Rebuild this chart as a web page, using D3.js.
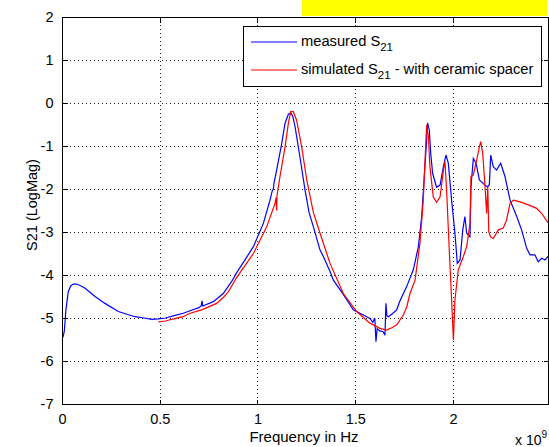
<!DOCTYPE html>
<html>
<head>
<meta charset="utf-8">
<script src="https://cdn.jsdelivr.net/npm/d3@7"></script>
<style>
  body { margin: 0; background: #fff; }
  text { font-family: "Liberation Sans", Arial, sans-serif; }
</style>
</head>
<body>
<script>
// frequency in units of 1e9 Hz, S21 in LogMag
var measuredF = [0.005,0.012,0.02,0.032,0.045,0.058,0.075,0.095,0.118,0.169,0.22,0.288,0.373,0.42,0.459,0.493,0.53,0.569,0.62,0.655,0.70,0.712,0.716,0.72,0.774,0.825,0.868,0.893,0.94,0.979,1.03,1.064,1.075,1.081,1.085,1.098,1.124,1.141,1.158,1.17,1.18,1.192,1.217,1.243,1.264,1.286,1.32,1.337,1.371,1.388,1.439,1.49,1.541,1.575,1.59,1.60,1.606,1.612,1.625,1.643,1.652,1.657,1.662,1.669,1.69,1.712,1.729,1.763,1.797,1.823,1.84,1.852,1.862,1.87,1.879,1.886,1.896,1.916,1.934,1.951,1.964,1.976,1.993,2.01,2.022,2.036,2.05,2.061,2.07,2.087,2.092,2.104,2.118,2.135,2.164,2.176,2.186,2.193,2.206,2.223,2.244,2.266,2.292,2.326,2.351,2.377,2.394,2.419,2.436,2.454,2.471,2.486];
var measuredV = [-5.45,-5.3,-4.81,-4.39,-4.25,-4.21,-4.21,-4.25,-4.31,-4.50,-4.66,-4.85,-4.97,-5.0,-5.03,-5.02,-5.0,-4.95,-4.89,-4.83,-4.76,-4.72,-4.6,-4.72,-4.62,-4.43,-4.15,-3.95,-3.62,-3.34,-2.80,-2.26,-2.05,-2.0,-1.85,-1.56,-0.94,-0.47,-0.26,-0.23,-0.3,-0.55,-1.25,-2.02,-2.55,-2.88,-3.42,-3.57,-3.92,-4.12,-4.45,-4.81,-4.93,-5.01,-5.1,-5.0,-5.55,-5.25,-5.3,-5.32,-5.4,-4.66,-4.95,-4.97,-4.9,-4.81,-4.6,-4.27,-3.88,-3.34,-2.64,-1.79,-1.09,-0.46,-0.63,-1.17,-1.64,-1.96,-1.91,-1.48,-1.21,-1.40,-2.26,-3.03,-3.73,-3.65,-2.95,-2.64,-3.03,-3.11,-1.95,-1.29,-1.40,-1.79,-1.91,-1.95,-1.9,-1.21,-1.48,-1.56,-1.40,-1.71,-2.26,-2.64,-2.95,-3.38,-3.53,-3.53,-3.69,-3.61,-3.65,-3.57];

var simulatedF = [0.493,0.53,0.561,0.62,0.655,0.714,0.791,0.83,0.851,0.893,0.979,1.047,1.09,1.095,1.098,1.10,1.115,1.141,1.158,1.17,1.183,1.20,1.226,1.252,1.286,1.32,1.371,1.439,1.507,1.575,1.627,1.66,1.69,1.712,1.746,1.763,1.78,1.806,1.831,1.848,1.857,1.865,1.874,1.882,1.899,1.916,1.934,1.951,1.959,1.968,1.981,1.993,2.002,2.01,2.027,2.053,2.07,2.087,2.092,2.104,2.121,2.135,2.142,2.152,2.164,2.172,2.178,2.183,2.193,2.206,2.232,2.257,2.274,2.292,2.309,2.343,2.385,2.428,2.454,2.486];
var simulatedV = [-5.09,-5.07,-5.03,-4.97,-4.89,-4.81,-4.66,-4.5,-4.39,-4.06,-3.50,-2.88,-2.33,-2.2,-2.5,-2.15,-1.71,-1.02,-0.47,-0.2,-0.2,-0.40,-1.02,-1.79,-2.55,-3.03,-3.73,-4.43,-4.85,-5.12,-5.24,-5.28,-5.22,-5.16,-4.93,-4.75,-4.43,-4.12,-3.26,-2.26,-1.33,-0.51,-0.78,-1.48,-2.18,-2.31,-2.18,-1.56,-1.36,-2.1,-3.42,-4.58,-5.51,-4.58,-3.88,-3.57,-3.34,-2.80,-1.71,-1.67,-1.33,-1.02,-0.90,-1.17,-1.95,-2.57,-1.95,-3.0,-3.12,-3.15,-2.95,-2.91,-2.72,-2.33,-2.26,-2.30,-2.37,-2.45,-2.57,-2.78];

var xTicks = [0, 0.5, 1, 1.5, 2];
var xTickLabels = ["0", "0.5", "1", "1.5", "2"];
var yTicks = [2, 1, 0, -1, -2, -3, -4, -5, -6, -7];

var W = 549, H = 447;
var pL = 62, pT = 17, pR = 548, pB = 404;

var svg = d3.select("body").append("svg")
  .attr("width", W).attr("height", H);

// yellow strip at top
svg.append("rect")
  .attr("x", 302).attr("y", 0).attr("width", 245).attr("height", 16)
  .attr("fill", "#ffff00");

var x = d3.scaleLinear().domain([0, 2.486]).range([pL, pR]);
var y = d3.scaleLinear().domain([-7, 2]).range([pB, pT]);

// grid
var grid = svg.append("g")
  .attr("stroke", "#222").attr("stroke-width", 1)
  .attr("stroke-dasharray", "1,3").attr("shape-rendering", "crispEdges");
grid.selectAll(".gx").data(xTicks.slice(1)).enter().append("line")
  .attr("x1", d => Math.round(x(d)) + 0.5).attr("x2", d => Math.round(x(d)) + 0.5)
  .attr("y1", pT).attr("y2", pB);
grid.selectAll(".gy").data(yTicks.slice(1, -1)).enter().append("line")
  .attr("y1", d => Math.round(y(d)) + 0.5).attr("y2", d => Math.round(y(d)) + 0.5)
  .attr("x1", pL).attr("x2", pR);

// curves
var line = d3.line().x(d => x(d[0])).y(d => y(d[1]));
svg.append("path")
  .datum(measuredF.map((f, i) => [f, measuredV[i]]))
  .attr("d", line).attr("fill", "none")
  .attr("stroke", "#0000ff").attr("stroke-width", 1.2);
svg.append("path")
  .datum(simulatedF.map((f, i) => [f, simulatedV[i]]))
  .attr("d", line).attr("fill", "none")
  .attr("stroke", "#ff0000").attr("stroke-width", 1.2);

// box + inward ticks
var axes = svg.append("g").attr("shape-rendering", "crispEdges");
axes.append("rect")
  .attr("x", pL + 0.5).attr("y", pT + 0.5)
  .attr("width", pR - pL).attr("height", pB - pT)
  .attr("fill", "none").attr("stroke", "#000");

var xAxis = d3.axisBottom(x).tickValues(xTicks).tickSize(-5)
  .tickFormat((d, i) => xTickLabels[i]).tickPadding(9);
var gx = axes.append("g").attr("transform", "translate(0," + (pB + 0.5) + ")").call(xAxis);
var xTop = d3.axisTop(x).tickValues(xTicks).tickSize(-5).tickFormat("");
axes.append("g").attr("transform", "translate(0," + (pT + 0.5) + ")").call(xTop);

var yAxis = d3.axisLeft(y).tickValues(yTicks).tickSize(-5).tickPadding(9);
var gy = axes.append("g").attr("transform", "translate(" + (pL + 0.5) + ",0)").call(yAxis);
var yRight = d3.axisRight(y).tickValues(yTicks).tickSize(-5).tickFormat("");
axes.append("g").attr("transform", "translate(" + (pR + 0.5) + ",0)").call(yRight);

axes.selectAll(".domain").remove();
axes.selectAll(".tick text").attr("font-size", 14.5).attr("fill", "#000")
  .attr("font-family", "Liberation Sans, Arial, sans-serif");
axes.selectAll(".tick line").attr("stroke", "#000");
gy.selectAll(".tick text").text(d => d < 0 ? "-" + (-d) : d);

// axis labels
svg.append("text").attr("x", 304).attr("y", 442)
  .attr("text-anchor", "middle").attr("font-size", 15).text("Frequency in Hz");
svg.append("text")
  .attr("transform", "translate(37,205) rotate(-90)")
  .attr("text-anchor", "middle").attr("font-size", 14.5).text("S21 (LogMag)");
var mult = svg.append("text").attr("x", 515).attr("y", 445).attr("font-size", 14);
mult.append("tspan").text("x 10");
mult.append("tspan").attr("dy", -7).attr("font-size", 10).text("9");

// legend
var lg = svg.append("g");
lg.append("rect").attr("x", 243.5).attr("y", 26.5).attr("width", 298).attr("height", 60)
  .attr("fill", "#fff").attr("stroke", "#000").attr("shape-rendering", "crispEdges");
var entries = [
  { name: "measured S", sub: "21", rest: "", color: "#0000ff", y: 42 },
  { name: "simulated S", sub: "21", rest: " - with ceramic spacer", color: "#ff0000", y: 70 }
];
entries.forEach(function (e) {
  lg.append("line").attr("x1", 251).attr("x2", 297).attr("y1", e.y).attr("y2", e.y)
    .attr("stroke", e.color).attr("stroke-width", 1.2);
  var t = lg.append("text").attr("x", 301).attr("y", e.y + 4).attr("font-size", 14.7);
  t.append("tspan").text(e.name);
  t.append("tspan").attr("dy", 5).attr("font-size", 11.5).text(e.sub);
  if (e.rest) t.append("tspan").attr("dy", -5).text(e.rest);
});
</script>
</body>
</html>
